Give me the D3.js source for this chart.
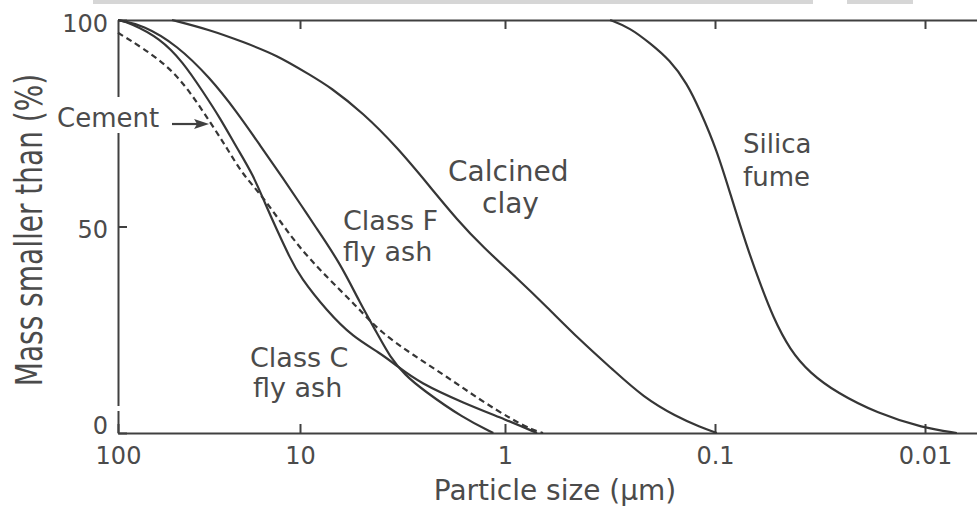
<!DOCTYPE html>
<html>
<head>
<meta charset="utf-8">
<script src="https://cdn.jsdelivr.net/npm/d3@7"></script>
<style>
  body { margin: 0; background: #fff; }
  text { font-family: "DejaVu Sans", sans-serif; fill: #4b4b4b; }
</style>
</head>
<body>
<svg id="chart" width="977" height="506"></svg>
<script>
// values: particle size (µm) vs mass smaller than (%)
const cementSize = [100, 72.9, 51.8, 40.2, 31.2, 25.2, 20.6, 16.2, 10.9, 8.26, 6.38, 5.10, 4.07, 2.81, 1.92, 1.32, 0.916, 0.736, 0.659]
const cementPct  = [96.9, 93.2, 88.4, 82.6, 75.3, 69.0, 62.5, 57.6, 46.7, 40.2, 34.6, 29.8, 24.5, 18.9, 13.6, 8.0, 3.1, 0.7, 0]

const classCSize = [100, 85.9, 58.8, 43.9, 34.1, 27.5, 22.2, 18.1, 15.6, 13.4, 11.35, 10, 7.38, 5.51, 4.07, 3.36, 2.60, 1.60, 0.978, 0.704]
const classCPct  = [100, 99.3, 95.6, 89.8, 82.6, 76.3, 69.0, 62.5, 55.7, 49.2, 42.4, 37.8, 29.5, 23.2, 19.4, 16.2, 12.1, 7.3, 3.1, 0]

const classFSize = [100, 72.9, 47.4, 31.2, 22.2, 16.6, 12.4, 9.67, 8.64, 6.38, 5.10, 4.21, 3.64, 3.07, 2.51, 1.60, 1.14]
const classFPct  = [100, 98.8, 93.9, 86.0, 77.7, 69.7, 61.7, 54.5, 50.8, 41.2, 31.5, 24.2, 18.4, 14.0, 10.4, 3.6, 0]

const claySize = [50.5, 31.2, 20.6, 13.4, 8.94, 7.14, 4.93, 3.36, 2.32, 1.71, 1.28, 0.877, 0.631, 0.440, 0.306, 0.220, 0.152, 0.118, 0.098]
const clayPct  = [100, 97.6, 94.7, 91.5, 86.7, 83.8, 77.5, 69.2, 59.6, 51.6, 45.0, 37.5, 30.5, 22.5, 15.3, 8.7, 3.9, 1.5, 0]

const silicaSize = [0.316, 0.254, 0.204, 0.164, 0.136, 0.118, 0.098, 0.0848, 0.0704, 0.0611, 0.0530, 0.0440, 0.0353, 0.0262, 0.0169, 0.0102, 0.00705]
const silicaPct  = [100, 98.1, 94.4, 90.3, 84.7, 78.2, 68.5, 58.1, 45.0, 36.3, 28.1, 20.1, 14.5, 9.7, 4.8, 1.2, 0]

const xTicks = [100, 10, 1, 0.1, 0.01]
const xTickLabels = ["100", "10", "1", "0.1", "0.01"]
const yTicks = [0, 50, 100]
const yTickLabels = ["0", "50", "100"]

const svg = d3.select("#chart")

// the scan's decades are not evenly spaced, so the log scale is piecewise
const x = d3.scaleLog()
  .domain([100, 10, 1, 0.1, 0.01, 0.00565])
  .range([118, 300, 505, 715, 925, 977])
const y = d3.scaleLinear().domain([0, 100]).range([433, 20])

// faint grey strip left by the scan at the top
svg.append("rect").attr("x", 93).attr("y", 0).attr("width", 720).attr("height", 4).attr("fill", "#d6d6d6")
svg.append("rect").attr("x", 847).attr("y", 0).attr("width", 66).attr("height", 4).attr("fill", "#d6d6d6")

const styleAxis = g => {
  g.select(".domain").attr("stroke", "#404040").attr("stroke-width", 2)
  g.selectAll(".tick line").attr("stroke", "#404040").attr("stroke-width", 2)
  g.selectAll(".tick text").attr("font-size", 24).style("fill", "#4b4b4b")
}

svg.append("g")
  .attr("transform", `translate(0,${y(0)})`)
  .call(d3.axisBottom(x).tickValues(xTicks)
    .tickFormat((d, i) => xTickLabels[i])
    .tickSizeInner(-9).tickSizeOuter(0).tickPadding(14))
  .call(styleAxis)

svg.append("g")
  .attr("transform", `translate(0,${y(100)})`)
  .call(d3.axisTop(x).tickValues(xTicks.slice(1))
    .tickFormat("")
    .tickSizeInner(-9).tickSizeOuter(0))
  .call(styleAxis)

const yOffsets = { 0: -7, 50: 3, 100: 4 }
svg.append("g")
  .attr("transform", `translate(${x(100)},0)`)
  .call(d3.axisLeft(y).tickValues(yTicks)
    .tickFormat((d, i) => yTickLabels[i])
    .tickSizeInner(-9).tickSizeOuter(0).tickPadding(10))
  .call(styleAxis)
  .call(g => g.selectAll(".tick text").attr("transform", d => `translate(0,${yOffsets[d]})`))

// breaks in the left axis line
svg.append("rect").attr("x", x(100) - 5).attr("y", 97).attr("width", 10).attr("height", 36).attr("fill", "#fff")
svg.append("rect").attr("x", x(100) - 5).attr("y", 406).attr("width", 10).attr("height", 5).attr("fill", "#fff")

const line = d3.line()
  .x(d => x(d[0]))
  .y(d => y(d[1]))
  .curve(d3.curveBasis)

const series = [
  { size: claySize, pct: clayPct, dash: null },
  { size: silicaSize, pct: silicaPct, dash: null },
  { size: classFSize, pct: classFPct, dash: null },
  { size: classCSize, pct: classCPct, dash: null },
  { size: cementSize, pct: cementPct, dash: "6,4" }
]

svg.append("g")
  .selectAll("path")
  .data(series)
  .join("path")
  .attr("d", s => line(s.size.map((v, i) => [v, s.pct[i]])))
  .attr("fill", "none")
  .attr("stroke", "#363636")
  .attr("stroke-width", 2.2)
  .attr("stroke-dasharray", s => s.dash)

// labels
const labels = [
  { t: "Cement", x: 57, y: 127, size: 26 },
  { t: "Calcined", x: 448, y: 181, size: 28 },
  { t: "clay", x: 482, y: 213, size: 28 },
  { t: "Class F", x: 343, y: 230, size: 27 },
  { t: "fly ash", x: 343, y: 261, size: 27 },
  { t: "Class C", x: 250, y: 367, size: 27 },
  { t: "fly ash", x: 253, y: 397, size: 27 },
  { t: "Silica", x: 743, y: 153, size: 26 },
  { t: "fume", x: 743, y: 186, size: 26 }
]
svg.append("g")
  .selectAll("text")
  .data(labels)
  .join("text")
  .attr("x", d => d.x)
  .attr("y", d => d.y)
  .attr("font-size", d => d.size)
  .text(d => d.t)

// arrow pointing at the cement curve
const tipX = x(31.2) - 1, tipY = y(75.3) + 2
svg.append("line")
  .attr("x1", 172).attr("y1", tipY).attr("x2", tipX - 10).attr("y2", tipY)
  .attr("stroke", "#404040").attr("stroke-width", 2.2)
svg.append("path")
  .attr("d", `M${tipX},${tipY} L${tipX - 15},${tipY - 5} L${tipX - 12},${tipY} L${tipX - 15},${tipY + 5} Z`)
  .attr("fill", "#404040")

// axis titles
svg.append("text")
  .attr("x", 555).attr("y", 500)
  .attr("text-anchor", "middle")
  .attr("font-size", 28)
  .text("Particle size (µm)")

svg.append("text")
  .attr("transform", "translate(42,230) scale(1.3,1) rotate(-90)")
  .attr("text-anchor", "middle")
  .attr("font-size", 28)
  .text("Mass smaller than (%)")
</script>
</body>
</html>
